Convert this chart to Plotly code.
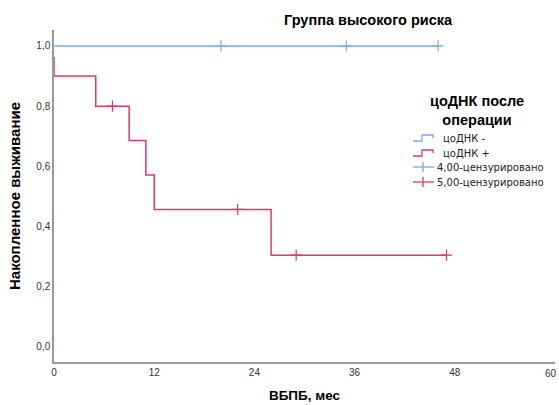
import plotly.graph_objects as go

# Data
x_ticks = [0, 12, 24, 36, 48, 60]
y_ticks = [0.0, 0.2, 0.4, 0.6, 0.8, 1.0]

neg_time = [0, 46]
neg_surv = [1.0, 1.0]
neg_cens_t = [20, 35, 46]
neg_cens_s = [1.0, 1.0, 1.0]

pos_time = [0, 0, 5, 9, 11, 12, 26, 47]
pos_surv = [0.963, 0.9, 0.8, 0.686, 0.571, 0.457, 0.305, 0.305]
pos_cens_t = [7, 22, 29, 47]
pos_cens_s = [0.8, 0.457, 0.305, 0.305]

title = "Группа высокого риска"
legend_title = "цоДНК после<br>операции"
legend_labels = ["цоДНК -", "цоДНК +", "4,00-цензурировано", "5,00-цензурировано"]

BLUE = "#79A9EA"
RED = "#E33863"
FONT = "Arial, Liberation Sans, sans-serif"
LFONT = "DejaVu Sans, Arial, sans-serif"

fig = go.Figure()
fig.add_trace(go.Scatter(x=neg_time, y=neg_surv, mode="lines", line=dict(color=BLUE, width=1.5, shape="hv"), showlegend=False))
fig.add_trace(go.Scatter(x=pos_time, y=pos_surv, mode="lines", line=dict(color=RED, width=1.5, shape="hv"), showlegend=False))
fig.add_trace(go.Scatter(x=neg_cens_t, y=neg_cens_s, mode="markers",
                         marker=dict(symbol="cross-thin", size=8, line=dict(color=BLUE, width=1.2)), showlegend=False))
fig.add_trace(go.Scatter(x=pos_cens_t, y=pos_cens_s, mode="markers",
                         marker=dict(symbol="cross-thin", size=8, line=dict(color=RED, width=1.2)), showlegend=False))

# plot area in pixels
L, R, T, B = 54, 555, 30, 362
W, H = R - L, B - T

def px(x):
    return (x - L) / W

def py(y):
    return (B - y) / H

shapes = []
annotations = []

# Manual legend
annotations.append(dict(xref="paper", yref="paper", x=px(477), y=py(110), text="<b>" + legend_title + "</b>",
                        showarrow=False, font=dict(family=FONT, size=14.5, color="#000"), xanchor="center", yanchor="middle", align="center"))
rows = [138, 153, 167, 182]
cols = [BLUE, RED, BLUE, RED]
for i, (yy, c, lab) in enumerate(zip(rows, cols, legend_labels)):
    if i < 2:
        path = (f"M {px(413)} {py(yy+3)} L {px(422)} {py(yy+3)} L {px(422)} {py(yy-3)} "
                f"L {px(433)} {py(yy-3)} L {px(433)} {py(yy)}")
        shapes.append(dict(type="path", xref="paper", yref="paper", path=path, line=dict(color=c, width=1.3)))
        tx = 441
    else:
        shapes.append(dict(type="line", xref="paper", yref="paper", x0=px(413), x1=px(434), y0=py(yy), y1=py(yy), line=dict(color=c, width=1.3)))
        shapes.append(dict(type="line", xref="paper", yref="paper", x0=px(423), x1=px(423), y0=py(yy - 5), y1=py(yy + 5), line=dict(color=c, width=1.3)))
        tx = 435
    annotations.append(dict(xref="paper", yref="paper", x=px(tx), y=py(yy), text=lab, showarrow=False,
                            font=dict(family=LFONT, size=10, color="#222"), xanchor="left", yanchor="middle"))

annotations.append(dict(xref="paper", yref="paper", x=px(368), y=py(20), text="<b>" + title + "</b>", showarrow=False,
                        font=dict(family=FONT, size=14.5, color="#000"), xanchor="center", yanchor="middle"))

# last x tick label kept inside the page (right-aligned at the edge)
x_ticktext = [str(v) for v in x_ticks[:-1]] + [""]
annotations.append(dict(xref="x", yref="paper", x=x_ticks[-1], y=0, text=str(x_ticks[-1]), showarrow=False,
                        xanchor="right", yanchor="top", xshift=4, yshift=-4,
                        font=dict(family=FONT, size=10, color="#333")))

fig.update_layout(
    width=559, height=405,
    margin=dict(l=L, r=559 - R, t=T, b=405 - B, pad=0, autoexpand=False),
    plot_bgcolor="white", paper_bgcolor="white",
    separators=", ",
    shapes=shapes, annotations=annotations,
    font=dict(family=FONT),
)
fig.update_xaxes(range=[0, 60], tickvals=x_ticks, ticktext=x_ticktext, ticks="", showgrid=False, zeroline=False,
                 showline=True, linecolor="#999", linewidth=1.5, automargin=False,
                 tickfont=dict(family=FONT, size=10, color="#333"),
                 title=dict(text="<b>ВБПБ, мес</b>", font=dict(family=FONT, size=13.5, color="#000"), standoff=14))
fig.update_yaxes(range=[-0.05, 1.053], tickvals=y_ticks, tickformat=".1f", ticks="", showgrid=False, zeroline=False,
                 showline=True, linecolor="#999", linewidth=1.5, automargin=False,
                 tickfont=dict(family=FONT, size=10, color="#333"),
                 title=dict(text="<b>Накопленное выживание</b>", font=dict(family=FONT, size=15, color="#000"), standoff=12))

fig.write_html("out.html")
